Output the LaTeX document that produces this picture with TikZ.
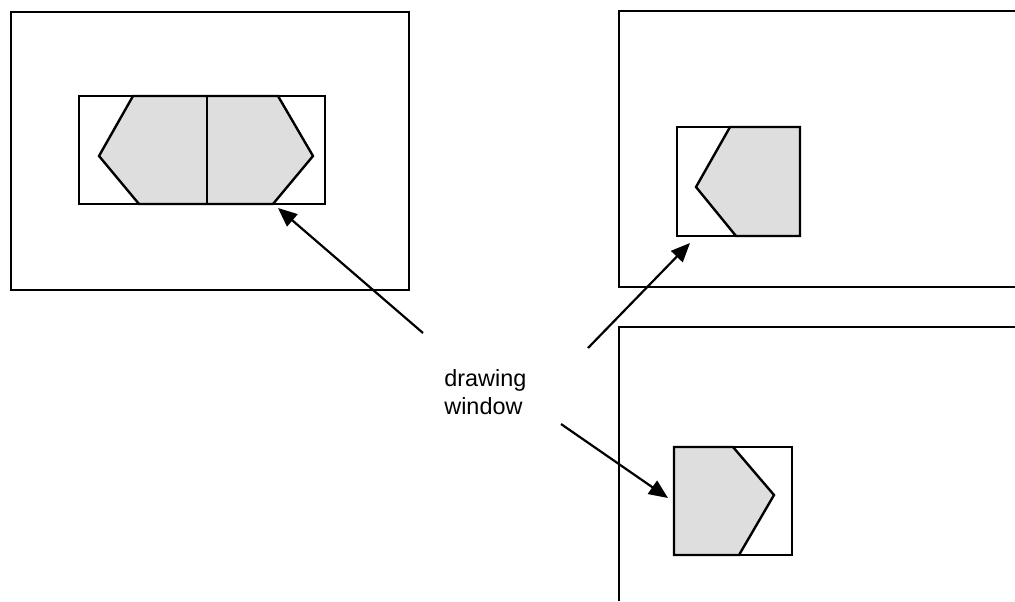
\documentclass[tikz,border=0pt]{standalone}
\usepackage{fontspec}
\setmainfont{Liberation Sans}
\usetikzlibrary{arrows.meta}

\begin{document}
\begin{tikzpicture}[x=0.5pt, y=-0.5pt, >={Triangle[length=9.5pt,width=8pt]},
    screen/.style={line width=1.1pt},
    win/.style={draw, line width=1.2pt},
    obj/.style={fill=black!13, draw, line width=1.2pt, line join=miter},
    ptr/.style={->, line width=1.1pt}]
    \useasboundingbox (0,0) rectangle (1015,601);
    % screens
    \draw[screen] (11,12) rectangle (409,290);
    \draw[screen] (1015,11) -- (619,11) -- (619,287) -- (1015,287);
    \draw[screen] (1015,327) -- (619,327) -- (619,601);
    % window 1
    \draw[obj] (133,96) -- (278,96) -- (313,156) -- (273,204) -- (139,204) -- (99,156) -- cycle;
    \draw[line width=1.2pt] (207,96) -- (207,204);
    \draw[win] (79,96) rectangle (325,204);
    % window 2
    \draw[obj] (730,127) -- (800,127) -- (800,236) -- (736,236) -- (696,187) -- cycle;
    \draw[win] (677,127) rectangle (800,236);
    % window 3
    \draw[obj] (674,447) -- (733,447) -- (774,495) -- (739,555) -- (674,555) -- cycle;
    \draw[win] (674,447) rectangle (792,555);
    % label and pointers
    \node[anchor=west, align=left, inner sep=0pt, font=\fontsize{11.7}{14}\selectfont] (lbl) at (444,392) {drawing\\window};
    \coordinate (tailA) at (423,333);
    \coordinate (tipA) at (278,208);
    \coordinate (tailB) at (588,348);
    \coordinate (tipB) at (690,243);
    \coordinate (tailC) at (561,424);
    \coordinate (tipC) at (668,498);
    \draw[ptr] (tailA) -- (tipA);
    \draw[ptr] (tailB) -- (tipB);
    \draw[ptr] (tailC) -- (tipC);
\end{tikzpicture}
\end{document}
